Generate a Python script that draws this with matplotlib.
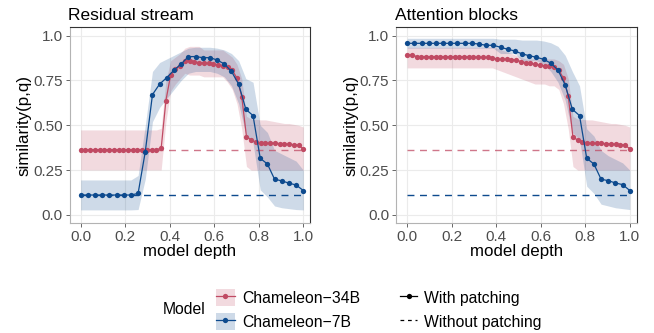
import numpy as np
import matplotlib
matplotlib.use("Agg")
import matplotlib.pyplot as plt
from matplotlib.lines import Line2D
from matplotlib.patches import Patch

plt.rcParams['font.family'] = ['Liberation Sans', 'DejaVu Sans']

# Chameleon-34B: 48 layers, Chameleon-7B: 32 layers
depth_34b = np.linspace(0, 1, 48)
depth_7b = np.linspace(0, 1, 32)

# baselines (without patching)
base_34b = 0.364
base_7b = 0.111

# residual stream
res_34b = [0.364] * 17 + [0.372, 0.638, 0.781, 0.814, 0.831, 0.860, 0.859, 0.853, 0.850,
           0.848, 0.845, 0.840, 0.838, 0.833, 0.827, 0.808, 0.762, 0.660, 0.437, 0.418,
           0.405, 0.400, 0.400, 0.401, 0.400, 0.398, 0.396, 0.394, 0.392, 0.389, 0.368]
res_34b_lo = [0.251] * 18 + [0.52, 0.69, 0.73, 0.76, 0.79, 0.78, 0.78, 0.78, 0.77, 0.77,
              0.77, 0.77, 0.77, 0.74, 0.70, 0.62, 0.48, 0.27, 0.25, 0.25, 0.25, 0.25,
              0.25, 0.25, 0.25, 0.25, 0.25, 0.25, 0.25, 0.25]
res_34b_hi = [0.474] * 17 + [0.483, 0.75, 0.86, 0.88, 0.90, 0.93, 0.94, 0.94, 0.94, 0.92,
              0.92, 0.92, 0.92, 0.92, 0.90, 0.88, 0.84, 0.76, 0.55, 0.535, 0.533, 0.53,
              0.53, 0.525, 0.52, 0.515, 0.51, 0.51, 0.505, 0.50, 0.49]

res_7b = [0.111] * 8 + [0.120, 0.353, 0.671, 0.730, 0.766, 0.808, 0.842, 0.883, 0.883,
          0.877, 0.877, 0.864, 0.842, 0.800, 0.729, 0.589, 0.554, 0.316, 0.284, 0.199,
          0.190, 0.177, 0.167, 0.136]
res_7b_lo = [0.028] * 8 + [0.03, 0.20, 0.52, 0.60, 0.65, 0.70, 0.75, 0.79, 0.80, 0.80,
             0.80, 0.79, 0.77, 0.72, 0.62, 0.45, 0.40, 0.14, 0.10, 0.05, 0.04, 0.035,
             0.03, 0.028]
res_7b_hi = [0.195] * 8 + [0.22, 0.50, 0.80, 0.85, 0.87, 0.89, 0.91, 0.93, 0.935, 0.935,
             0.935, 0.93, 0.92, 0.90, 0.86, 0.76, 0.74, 0.50, 0.46, 0.36, 0.34, 0.32,
             0.30, 0.25]

# attention blocks
att_34b = [0.892, 0.893] + [0.883] * 12 + [0.881, 0.880, 0.879, 0.878, 0.876, 0.868, 0.868,
           0.867, 0.866, 0.865, 0.855, 0.850, 0.845, 0.840, 0.836, 0.832, 0.830, 0.826,
           0.808, 0.762, 0.664, 0.433, 0.418, 0.407, 0.401, 0.400, 0.400, 0.399, 0.398,
           0.396, 0.394, 0.392, 0.390, 0.368]
att_34b_lo = [0.82] * 19 + [0.81, 0.80, 0.79, 0.78, 0.77, 0.76, 0.75, 0.74, 0.73, 0.73,
              0.73, 0.72, 0.72, 0.70, 0.62, 0.48, 0.27, 0.25, 0.25, 0.25, 0.25, 0.25,
              0.25, 0.25, 0.25, 0.25, 0.25, 0.25, 0.25]
att_34b_hi = [0.935] * 19 + [0.93, 0.92, 0.91, 0.90, 0.89, 0.88, 0.87, 0.87, 0.87, 0.87,
              0.87, 0.87, 0.87, 0.86, 0.84, 0.76, 0.55, 0.535, 0.533, 0.53, 0.53, 0.525,
              0.52, 0.515, 0.51, 0.51, 0.505, 0.50, 0.49]

att_7b = [0.957] * 10 + [0.953, 0.946, 0.946, 0.935, 0.924, 0.914, 0.898, 0.888, 0.879,
          0.868, 0.846, 0.808, 0.725, 0.589, 0.554, 0.316, 0.284, 0.199, 0.191, 0.178,
          0.169, 0.136]
att_7b_lo = [0.93] * 13 + [0.90, 0.90, 0.90, 0.86, 0.86, 0.86, 0.84, 0.80, 0.74, 0.64,
             0.46, 0.42, 0.16, 0.12, 0.06, 0.05, 0.04, 0.035, 0.03]
att_7b_hi = [0.985] * 13 + [0.98, 0.98, 0.98, 0.975, 0.975, 0.975, 0.97, 0.96, 0.94, 0.89,
             0.80, 0.72, 0.48, 0.44, 0.36, 0.33, 0.31, 0.29, 0.25]

red = '#C04A63'
blue = '#0D4A8E'

panels = [
    ("Residual stream", res_34b, res_34b_lo, res_34b_hi, res_7b, res_7b_lo, res_7b_hi),
    ("Attention blocks", att_34b, att_34b_lo, att_34b_hi, att_7b, att_7b_lo, att_7b_hi),
]

fig = plt.figure(figsize=(6.54, 3.33), dpi=100)
lefts = [69.5 / 654, 396 / 654]

for left, (title, r, rlo, rhi, b, blo, bhi) in zip(lefts, panels):
    ax = fig.add_axes([left, 110 / 333, 240.5 / 654, 196 / 333])
    ax.fill_between(depth_34b, rlo, rhi, color=red, alpha=0.2, lw=0)
    ax.fill_between(depth_7b, blo, bhi, color=blue, alpha=0.2, lw=0)
    ax.plot([0, 1], [base_34b, base_34b], color=red, lw=1, ls=(0, (5, 4)), alpha=0.75)
    ax.plot([0, 1], [base_7b, base_7b], color=blue, lw=1, ls=(0, (5, 4)))
    ax.plot(depth_34b, r, color=red, lw=0.9, marker='o', ms=3.8, mew=0)
    ax.plot(depth_7b, b, color=blue, lw=0.9, marker='o', ms=3.8, mew=0)

    ax.set_xlim(-0.05, 1.03)
    ax.set_ylim(-0.045, 1.048)
    ax.set_xticks([0, 0.2, 0.4, 0.6, 0.8, 1.0])
    ax.set_xticklabels(["0.0", "0.2", "0.4", "0.6", "0.8", "1.0"])
    ax.set_yticks([0, 0.25, 0.5, 0.75, 1.0])
    ax.set_yticklabels(["0.0", "0.25", "0.50", "0.75", "1.0"])
    ax.grid(True, color='#EBEBEB', lw=0.8)
    ax.set_axisbelow(True)
    ax.tick_params(colors='#4D4D4D', labelsize=11, length=3, width=0.6, pad=2)
    for s in ['top', 'right']:
        ax.spines[s].set_color('#333333')
        ax.spines[s].set_linewidth(0.8)
    for s in ['left', 'bottom']:
        ax.spines[s].set_color('#B3B3B3')
        ax.spines[s].set_linewidth(0.8)
    ax.set_xlabel("model depth", fontsize=12.2, labelpad=0)
    ax.set_ylabel("similarity(p,q)", fontsize=12.2, labelpad=1)
    ax.set_title(title, fontsize=12.5, loc='left', pad=5, x=-0.005)

# legends
fig.text(163 / 654, 1 - 309 / 333, "Model", fontsize=11.3, va='center', ha='left')
model_handles = [
    (Patch(facecolor=red, alpha=0.2, lw=0),
     Line2D([], [], color=red, lw=0.9, marker='o', ms=3.8, mew=0)),
    (Patch(facecolor=blue, alpha=0.2, lw=0),
     Line2D([], [], color=blue, lw=0.9, marker='o', ms=3.8, mew=0)),
]
leg1 = fig.legend(model_handles, ["Chameleon\u221234B", "Chameleon\u22127B"],
                  loc='center left', bbox_to_anchor=(215.7 / 654, 1 - 309.5 / 333),
                  frameon=False, fontsize=11.3, handlelength=1.23, handleheight=1.27,
                  labelspacing=0.48, handletextpad=0.48, borderpad=0, borderaxespad=0)
style_handles = [
    Line2D([], [], color='black', lw=0.9, marker='o', ms=3.8, mew=0),
    Line2D([], [], color='black', lw=0.9, ls=(0, (3, 3))),
]
leg2 = fig.legend(style_handles, ["With patching", "Without patching"],
                  loc='center left', bbox_to_anchor=(400 / 654, 1 - 309.5 / 333),
                  frameon=False, fontsize=11.3, handlelength=1.1, handleheight=1.27,
                  labelspacing=0.48, handletextpad=0.45, borderpad=0, borderaxespad=0)

fig.savefig("out.png", dpi=100)
